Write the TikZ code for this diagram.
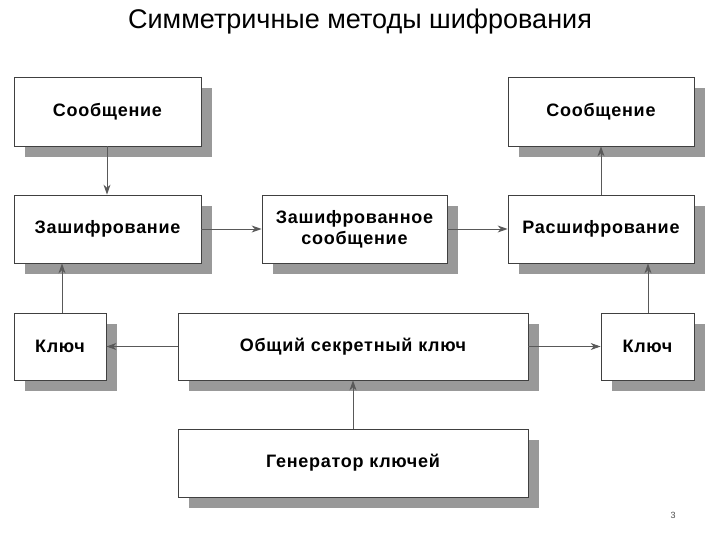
\documentclass[tikz,border=0pt]{standalone}
\usepackage{fontspec}
\setmainfont{Liberation Sans}[LetterSpace=4]
\usetikzlibrary{arrows.meta}
\begin{document}
\begin{tikzpicture}[x=1pt,y=-1pt,
  box/.style={draw=black!75,line width=0.8pt,fill=white,font=\bfseries\fontsize{18}{19}\selectfont,align=center},
  arr/.style={draw=black!65,line width=0.9pt,-{Stealth[length=10pt,width=7pt]}}]
\useasboundingbox (0,0) rectangle (720,540);
\node[font=\addfontfeature{LetterSpace=0}\fontsize{27}{30}\selectfont] (title) at (360,22) {Симметричные методы шифрования};
\newcommand\mybox[6]{%
  \fill[black!40] (#2+11,#3+11) rectangle (#4+11,#5+11);
  \node[box,minimum width=#4-#2,minimum height=#5-#3] (#1) at ({(#2+#4)/2},{(#3+#5)/2}) {#6};}
\mybox{m1}{14}{77}{201}{146}{Сообщение}
\mybox{enc}{14}{195}{201}{263}{Зашифрование}
\mybox{ct}{262}{195}{447}{263}{Зашифрованное\\[2pt]сообщение}
\mybox{dec}{508}{195}{694}{263}{Расшифрование}
\mybox{m2}{508}{77}{694}{146}{Сообщение}
\mybox{kl}{14}{313}{106}{380}{Ключ}
\mybox{ck}{178}{313}{528}{380}{Общий секретный ключ}
\mybox{kr}{601}{313}{694}{380}{Ключ}
\mybox{gen}{178}{429}{528}{497}{Генератор ключей}
\draw[arr] (m1.south -| 107,0) -- (enc.north -| 107,0);
\draw[arr] (enc.east) -- (ct.west);
\draw[arr] (ct.east) -- (dec.west);
\draw[arr] (dec.north -| 601,0) -- (m2.south -| 601,0);
\draw[arr] (kl.north -| 62,0) -- (enc.south -| 62,0);
\draw[arr] (kr.north -| 648,0) -- (dec.south -| 648,0);
\draw[arr] (ck.west) -- (kl.east);
\draw[arr] (ck.east) -- (kr.west);
\draw[arr] (gen.north) -- (ck.south);
\node[font=\addfontfeature{LetterSpace=0}\small,text=black!70] (pg) at (673,515) {3};
\end{tikzpicture}
\end{document}
